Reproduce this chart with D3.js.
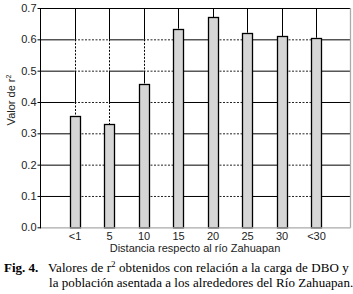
<!DOCTYPE html>
<html><head><meta charset="utf-8">
<script src="https://cdn.jsdelivr.net/npm/d3@7"></script>
<style>body{margin:0;background:#fff}svg{display:block}</style>
</head><body>
<svg id="c" width="353" height="294"></svg>
<script>
const categories = ["<1","5","10","15","20","25","30","<30"];
const values = [0.354,0.329,0.459,0.634,0.670,0.621,0.610,0.605];
const yTicks = [0,0.1,0.2,0.3,0.4,0.5,0.6,0.7];
const yTickLabels = ["0.0","0.1","0.2","0.3","0.4","0.5","0.6","0.7"];

const svg = d3.select("#c");
const L = 40, R = 350.5, T = 8, B = 227.3;
const x = d3.scaleLinear().domain([0, categories.length+1]).range([L, R]);
const xc = (i) => x(i+1);
const y = d3.scaleLinear().domain([0,0.7]).range([B, T]);
const bw = 10;

// horizontal grid segments (alternating solid/dotted between bar centers)
const g = svg.append("g");
const bounds = [0].concat(categories.map((d,i)=>i+1)).concat([categories.length+1]);
yTicks.slice(1,-1).forEach(t => {
  for (let k=0;k<bounds.length-1;k++){
    g.append("line").attr("x1",x(bounds[k])).attr("x2",x(bounds[k+1]))
      .attr("y1",y(t)+0.5).attr("y2",y(t)+0.5)
      .attr("stroke", k%2===0 ? "#000" : "#222").attr("stroke-width",1)
      .attr("stroke-dasharray", k%2===0 ? null : "2,1.5");
  }
});
// vertical grid segments from top to bar top, alternating
categories.forEach((c,i) => {
  const yb = yTicks.slice().reverse();
  for (let k=0;k<yb.length-1;k++){
    const top = yb[k], bot = Math.max(yb[k+1], values[i]);
    if (top <= values[i]) break;
    g.append("line").attr("x1",Math.round(xc(i))+0.5).attr("x2",Math.round(xc(i))+0.5)
      .attr("y1",y(top)).attr("y2",y(bot))
      .attr("stroke","#000").attr("stroke-width",1)
      .attr("stroke-dasharray", k%2===0 ? null : "2,1.5");
  }
});

// bars
svg.append("g").selectAll("rect").data(values).join("rect")
  .attr("x",(d,i)=>Math.round(xc(i)-bw/2)+0.5)
  .attr("y",d=>Math.round(y(d))+0.5)
  .attr("width",bw)
  .attr("height",d=>B-Math.round(y(d)))
  .attr("fill","#d6d6d6").attr("stroke","#000").attr("stroke-width",1.3);

// frame
svg.append("line").attr("x1",L).attr("x2",R).attr("y1",T+0.5).attr("y2",T+0.5).attr("stroke","#000");
svg.append("line").attr("x1",R).attr("x2",R).attr("y1",T).attr("y2",B+0.5).attr("stroke","#aaa").attr("stroke-width",1.3);
svg.append("line").attr("x1",L).attr("x2",R).attr("y1",B+0.5).attr("y2",B+0.5).attr("stroke","#aaa").attr("stroke-width",1.3);

// y axis
const ya = d3.axisLeft(y).tickValues(yTicks).tickFormat((d,i)=>yTickLabels[i]).tickSize(3).tickPadding(1);
const yg = svg.append("g").attr("transform",`translate(${L+0.5},0)`).call(ya);
yg.select(".domain").attr("stroke","#000").attr("d",`M0,${T}V${B+1}`);
yg.selectAll("text").attr("font-family","Liberation Sans, Arial, sans-serif").attr("font-size",11).attr("fill","#222");

// x labels
const xa = d3.axisBottom(x).tickValues(categories.map((d,i)=>i+1)).tickFormat((d)=>categories[d-1]).tickSize(0).tickPadding(5);
const xg = svg.append("g").attr("transform",`translate(0,${B})`).call(xa);
xg.select(".domain").remove();
xg.selectAll("text").attr("font-family","Liberation Sans, Arial, sans-serif").attr("font-size",11).attr("fill","#222");

// axis titles
svg.append("text").attr("x",195).attr("y",252).attr("text-anchor","middle")
  .attr("font-family","Liberation Sans, Arial, sans-serif").attr("font-size",11).attr("fill","#222")
  .text("Distancia respecto al río Zahuapan");
const yl = svg.append("text").attr("transform","translate(15,100) rotate(-90)").attr("text-anchor","middle")
  .attr("font-family","Liberation Sans, Arial, sans-serif").attr("font-size",11).attr("fill","#222");
yl.append("tspan").text("Valor de r");
yl.append("tspan").attr("font-size",7).attr("dy",-4).text("2");

// caption
const cf = "Liberation Serif, Times New Roman, serif";
svg.append("text").attr("x",4).attr("y",272).attr("font-family",cf).attr("font-size",13).attr("font-weight","bold").text("Fig. 4.");
const c1 = svg.append("text").attr("x",48).attr("y",272).attr("font-family",cf).attr("font-size",13).attr("letter-spacing",0.08);
c1.append("tspan").text("Valores de r");
c1.append("tspan").attr("font-size",9).attr("dy",-5).text("2");
c1.append("tspan").attr("dy",5).text(" obtenidos con relación a la carga de DBO y");
svg.append("text").attr("x",49).attr("y",287).attr("font-family",cf).attr("font-size",13).attr("letter-spacing",0.05)
  .text("la población asentada a los alrededores del Río Zahuapan.");
</script>
</body></html>
